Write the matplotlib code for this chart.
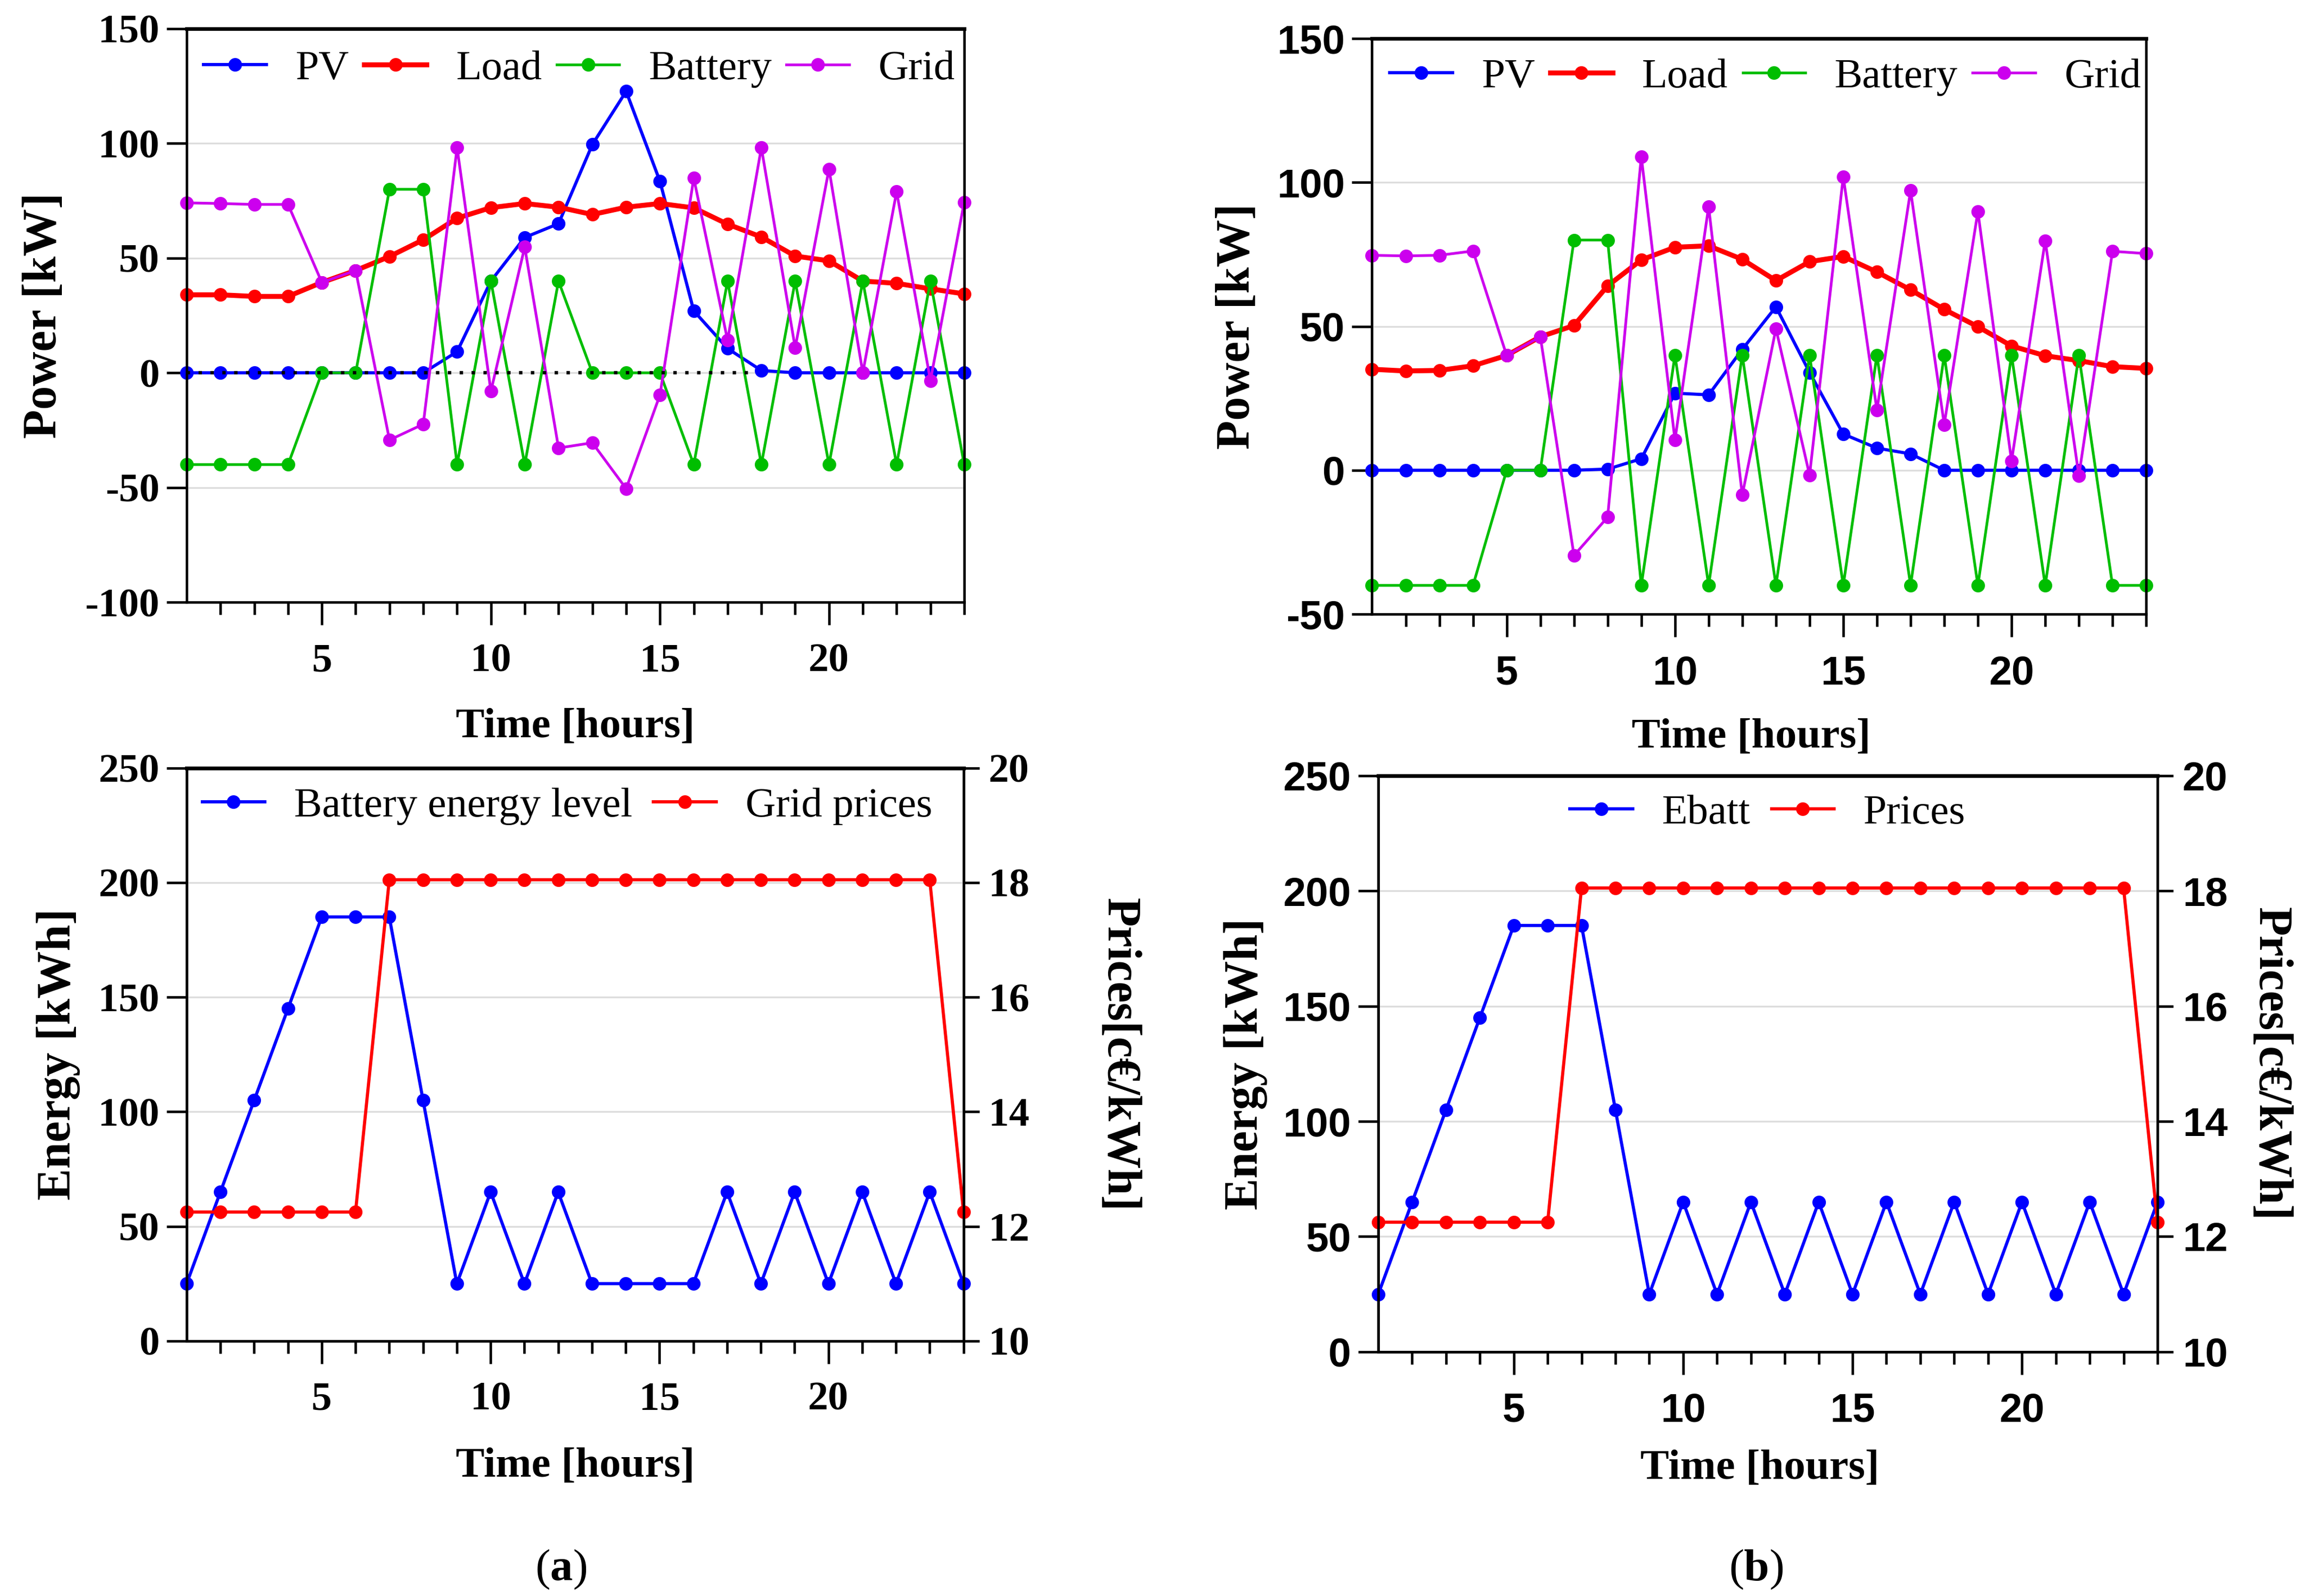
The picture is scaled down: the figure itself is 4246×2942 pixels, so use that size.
import matplotlib
matplotlib.use('Agg')
import matplotlib.pyplot as plt

plt.rcParams['font.family'] = ['Liberation Serif', 'DejaVu Serif']
plt.rcParams['font.weight'] = 'bold'
plt.rcParams['axes.labelweight'] = 'bold'
plt.rcParams['axes.unicode_minus'] = False
plt.rcParams['mathtext.fontset'] = 'custom'
plt.rcParams['mathtext.rm'] = 'Liberation Serif'
plt.rcParams['mathtext.bf'] = 'Liberation Serif:bold'

"""
(1) data read from the figure
"""

hours = list(range(1, 25))

pv_a = [0, 0, 0, 0, 0, 0, 0, 0, 9.2, 40, 59, 65, 99.5, 122.7, 83.5, 27, 10.6, 1, 0, 0, 0, 0, 0, 0]
load_a = [34, 34, 33.3, 33.3, 39.4, 44.6, 50.7, 58, 67.4, 72, 73.8, 72.2, 69, 72.2, 73.8, 71.9,
          64.8, 59.2, 50.9, 48.8, 40, 39, 36.6, 34.4]
batt_a = [-40, -40, -40, -40, 0, 0, 80, 80, -40, 40, -40, 40, 0, 0, 0, -40, 40, -40, 40, -40, 40, -40, 40, -40]
grid_a = [74.1, 73.8, 73.4, 73.4, 39.4, 44.6, -29.3, -22.4, 98.2, -8, 54.8, -32.8, -30.5, -50.5, -9.7,
          84.9, 14.2, 98.2, 10.9, 88.8, 0, 79, -3.4, 74.4]

pv_b = [0, 0, 0, 0, 0, 0, 0, 0.4, 4, 26.8, 26.2, 42, 56.8, 34, 12.6, 7.7, 5.7, 0, 0, 0, 0, 0, 0, 0]
load_b = [35.1, 34.5, 34.7, 36.3, 39.9, 46.4, 50.3, 64.1, 73.1, 77.5, 78, 73.3, 65.9, 72.5, 74.3, 68.9,
          62.7, 55.9, 49.9, 43.2, 39.8, 38.1, 36, 35.4]
batt_b = [-40, -40, -40, -40, 0, 0, 80, 80, -40, 40, -40, 40, -40, 40, -40, 40, -40, 40, -40, 40, -40, 40, -40, -40]
grid_b = [74.7, 74.5, 74.7, 76.2, 39.9, 46.4, -29.6, -16.3, 109, 10.5, 91.6, -8.6, 49.2, -1.7, 102,
          20.9, 97.2, 15.9, 89.9, 3.2, 79.8, -1.9, 76.1, 75.3]

energy_a = [25, 65, 105, 145, 185, 185, 185, 105, 25, 65, 25, 65, 25, 25, 25, 25, 65, 25, 65, 25, 65, 25, 65, 25]
energy_b = [25, 65, 105, 145, 185, 185, 185, 105, 25, 65, 25, 65, 25, 65, 25, 65, 25, 65, 25, 65, 25, 65, 25, 65]
prices = [12.25, 12.25, 12.25, 12.25, 12.25, 12.25, 18.05, 18.05, 18.05, 18.05, 18.05, 18.05, 18.05,
          18.05, 18.05, 18.05, 18.05, 18.05, 18.05, 18.05, 18.05, 18.05, 18.05, 12.25]

zero_line_end = 17.8

BLUE = '#0000FF'
RED = '#FF0000'
GREEN = '#00BE00'
MAGENTA = '#CC00EE'

LEG = {'family': 'Liberation Serif', 'weight': 'normal', 'size': 18.5}

"""
(2) helpers
"""


def style(ax, tick_family, yticks):
    ax.set_xlim(1, 24)
    ax.set_xticks([5, 10, 15, 20])
    ax.set_xticks(hours[1:], minor=True)
    ax.set_yticks(yticks)
    ax.set_ylim(yticks[0], yticks[-1])
    ax.tick_params(axis='x', which='major', length=10, width=1.1, pad=8,
                   labelsize=18, labelfontfamily=tick_family)
    ax.tick_params(axis='x', which='minor', length=5.5, width=1.1)
    ax.tick_params(axis='y', length=9, width=1.1, pad=3,
                   labelsize=18, labelfontfamily=tick_family)
    ax.grid(axis='y', color='#dddddd', lw=0.8)
    ax.set_axisbelow(True)
    for s in ax.spines.values():
        s.set_linewidth(1.1)
    ax.spines['top'].set_linewidth(1.6)


def line(ax, y, color, label, lw=1.2):
    return ax.plot(hours, y, color=color, lw=lw, marker='o', ms=5, label=label,
                   clip_on=False)[0]


def labels(ax, ylab, xpos, ypos, ylx):
    ax.set_xlabel('Time [hours]', fontsize=19)
    ax.xaxis.set_label_coords(xpos, ypos)
    ax.xaxis.label.set_va('center')
    ax.set_ylabel(ylab, fontsize=21)
    ax.yaxis.set_label_coords(ylx, 0.5)
    ax.yaxis.label.set_va('center')


def right_axis(ax, tick_family, lab_x):
    axr = ax.twinx()
    axr.set_ylim(10, 20)
    axr.set_yticks([10, 12, 14, 16, 18, 20])
    axr.tick_params(axis='y', length=7, width=1.1, pad=4, labelsize=18,
                    labelfontfamily=tick_family)
    for s in axr.spines.values():
        s.set_linewidth(1.1)
    axr.spines['top'].set_linewidth(1.6)
    axr.set_ylabel('Prices[c€/kWh]', fontsize=21, rotation=270)
    axr.yaxis.set_label_coords(lab_x, 0.5)
    axr.yaxis.label.set_va('center')
    return axr


"""
(3) figure
"""

fig = plt.figure(figsize=(4246 / 300, 2942 / 300), dpi=300)

ax1 = fig.add_axes([0.081, 0.6227, 0.3375, 0.3593])
style(ax1, 'Liberation Serif', [-100, -50, 0, 50, 100, 150])
line(ax1, pv_a, BLUE, 'PV', 1.4)
line(ax1, load_a, RED, 'Load', 2.2)
line(ax1, batt_a, GREEN, 'Battery')
line(ax1, grid_a, MAGENTA, 'Grid')
ax1.hlines(0, 1, zero_line_end, colors='k', linestyles=(0, (1, 2.5)), lw=1.5, zorder=4)
labels(ax1, 'Power [kW]', 0.5, -0.218, -0.183)
ax1.legend(loc='center left', bbox_to_anchor=(0.022, 0.93), ncol=4, frameon=False, prop=LEG,
           handlelength=1.5, handletextpad=0.7, columnspacing=0.35, borderpad=0, borderaxespad=0)

ax2 = fig.add_axes([0.5955, 0.6152, 0.3360, 0.3606])
style(ax2, 'Liberation Sans', [-50, 0, 50, 100, 150])
line(ax2, pv_b, BLUE, 'PV', 1.4)
line(ax2, load_b, RED, 'Load', 2.2)
line(ax2, batt_b, GREEN, 'Battery')
line(ax2, grid_b, MAGENTA, 'Grid')
labels(ax2, 'Power [kW]', 0.49, -0.214, -0.174)
ax2.legend(loc='center left', bbox_to_anchor=(0.023, 0.933), ncol=4, frameon=False, prop=LEG,
           handlelength=1.5, handletextpad=0.7, columnspacing=0.35, borderpad=0, borderaxespad=0)

ax3 = fig.add_axes([0.081, 0.1598, 0.3372, 0.3590])
style(ax3, 'Liberation Serif', [0, 50, 100, 150, 200, 250])
h1 = line(ax3, energy_a, BLUE, 'Battery energy level', 1.4)
labels(ax3, 'Energy [kWh]', 0.5, -0.219, -0.165)
ax3r = right_axis(ax3, 'Liberation Serif', 1.2)
h2 = line(ax3r, prices, RED, 'Grid prices', 1.4)
ax3r.legend(handles=[h1, h2], loc='center left', bbox_to_anchor=(0.02, 0.933), ncol=2,
            frameon=False, prop=LEG, handlelength=1.5, handletextpad=0.7, columnspacing=0.5,
            borderpad=0, borderaxespad=0)

ax4 = fig.add_axes([0.5982, 0.1530, 0.3382, 0.3610])
style(ax4, 'Liberation Sans', [0, 50, 100, 150, 200, 250])
h3 = line(ax4, energy_b, BLUE, 'Ebatt', 1.4)
labels(ax4, 'Energy [kWh]', 0.49, -0.203, -0.17)
ax4r = right_axis(ax4, 'Liberation Sans', 1.145)
h4 = line(ax4r, prices, RED, 'Prices', 1.4)
ax4r.legend(handles=[h3, h4], loc='center', bbox_to_anchor=(0.5, 0.935), ncol=2,
            frameon=False, prop=LEG, handlelength=1.5, handletextpad=0.7, columnspacing=0.5,
            borderpad=0, borderaxespad=0)

fig.text(1034 / 4246, 1 - 2893 / 2942, r'($\mathbf{a}$)', fontsize=20, fontweight='normal',
         ha='center', va='center')
fig.text(3236 / 4246, 1 - 2893 / 2942, r'($\mathbf{b}$)', fontsize=20, fontweight='normal',
         ha='center', va='center')

fig.savefig('out.png', dpi=300)
